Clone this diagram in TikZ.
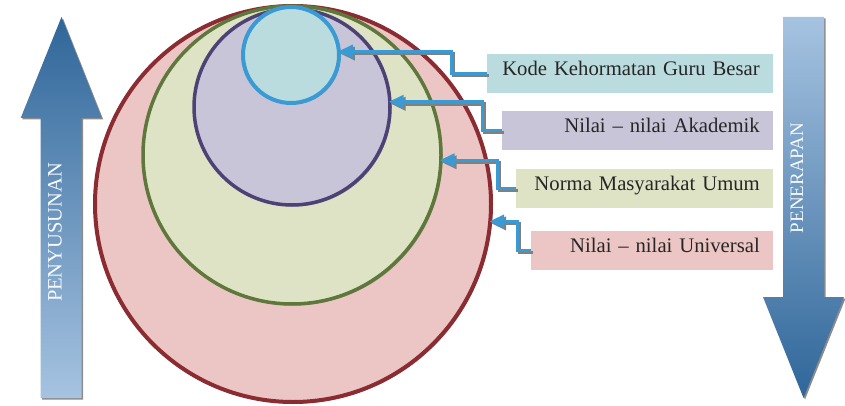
\documentclass[tikz,border=0pt]{standalone}
\usepackage{fontspec}
\setmainfont{Liberation Serif}
\usepackage{xcolor}
\usepackage{tikz}
\usetikzlibrary{shadows,arrows.meta}
\definecolor{redfill}{HTML}{ECC6C4}
\definecolor{redline}{HTML}{8A2C31}
\definecolor{greenfill}{HTML}{DFE3C5}
\definecolor{greenline}{HTML}{5E773A}
\definecolor{purplefill}{HTML}{C9C5D9}
\definecolor{purpleline}{HTML}{4C4275}
\definecolor{bluefill}{HTML}{BADCDF}
\definecolor{blueline}{HTML}{3A9AD3}
\definecolor{arrowdark}{HTML}{2F6699}
\definecolor{arrowmid}{HTML}{5497CF}
\definecolor{arrowlight}{HTML}{A6C3E1}
\definecolor{textdark}{HTML}{262626}
\def\risearrow#1{\path[#1] (40.7,398) -- (40.7,118) -- (20.7,118) -- (61.5,17) -- (101.7,118) -- (81.7,118) -- (81.7,398) -- cycle}
\def\fallarrow#1{\path[#1] (783,17) -- (824,17) -- (824,297) -- (844,297) -- (803.5,398) -- (763,297) -- (783,297) -- cycle}
\def\pointto#1#2#3{\draw[pointershadow] (#1.west) -- ++(#2,0) |- (#3); \draw[pointer] (#1.west) -- ++(#2,0) |- (#3)}
\tikzstyle{ring}=[circle,line width=3.5pt,drop shadow={shadow xshift=1.5pt,shadow yshift=-1.5pt,fill=black!45,opacity=.9}]
\tikzstyle{tag}=[anchor=east,minimum height=39pt,inner xsep=13pt,align=right,text=textdark,text height=0.68em,text depth=0.22em,font=\fontsize{20.7}{24}\selectfont]
\tikzstyle{pointer}=[blueline,line width=3.5pt,shorten >=-3pt,-{Triangle[length=15pt,width=13pt]}]
\tikzstyle{pointershadow}=[pointer,black!50,transform canvas={xshift=2pt,yshift=-2pt}]
\tikzstyle{arrowtext}=[rotate=90,anchor=base,inner sep=0pt,text=white!92!arrowlight]
\tikzstyle{arrowshadow}=[fill=black!45,xshift=1.5pt,yshift=-1.5pt]

\begin{document}
\begin{tikzpicture}[x=1pt,y=-1pt]
  \useasboundingbox (0,0) rectangle (845,406);
  % side arrows
  \risearrow{arrowshadow};
  \risearrow{shade,top color=arrowdark,middle color=arrowmid,bottom color=arrowlight};
  \fallarrow{arrowshadow};
  \fallarrow{shade,top color=arrowlight,middle color=arrowmid,bottom color=arrowdark};
  \node[arrowtext,font=\fontsize{20.5}{24}\selectfont] (penyusunan) at (61.7,232.5) {PENYUSUNAN};
  \node[arrowtext,font=\fontsize{19}{22}\selectfont] (penerapan) at (803,178) {PENERAPAN};
  % nested circles
  \node[ring,minimum size=396pt,draw=redline,fill=redfill,line width=4pt] (redcircle) at (293,204) {};
  \node[ring,minimum size=298pt,draw=greenline,fill=greenfill] (greencircle) at (292,155) {};
  \node[ring,minimum size=196pt,draw=purpleline,fill=purplefill] (purplecircle) at (292,107) {};
  \node[ring,minimum size=96pt,draw=blueline,fill=bluefill,line width=4pt] (bluecircle) at (291,55) {};
  % labels
  \node[tag,fill=bluefill,text width=260pt] (kode) at (773,73.5) {Kode Kehormatan Guru Besar};
  \node[tag,fill=purplefill,text width=245pt] (akademik) at (773,130.5) {Nilai -- nilai Akademik};
  \node[tag,fill=greenfill,text width=231pt] (norma) at (773,188.5) {Norma Masyarakat Umum};
  \node[tag,fill=redfill,text width=216pt] (universal) at (773,250.5) {Nilai -- nilai Universal};
  \pointto{kode}{-35}{bluecircle.4};
  \pointto{akademik}{-19}{purplecircle.3};
  \pointto{norma}{-18}{greencircle.-2};
  \pointto{universal}{-13}{redcircle.-5};
\end{tikzpicture}
\end{document}
